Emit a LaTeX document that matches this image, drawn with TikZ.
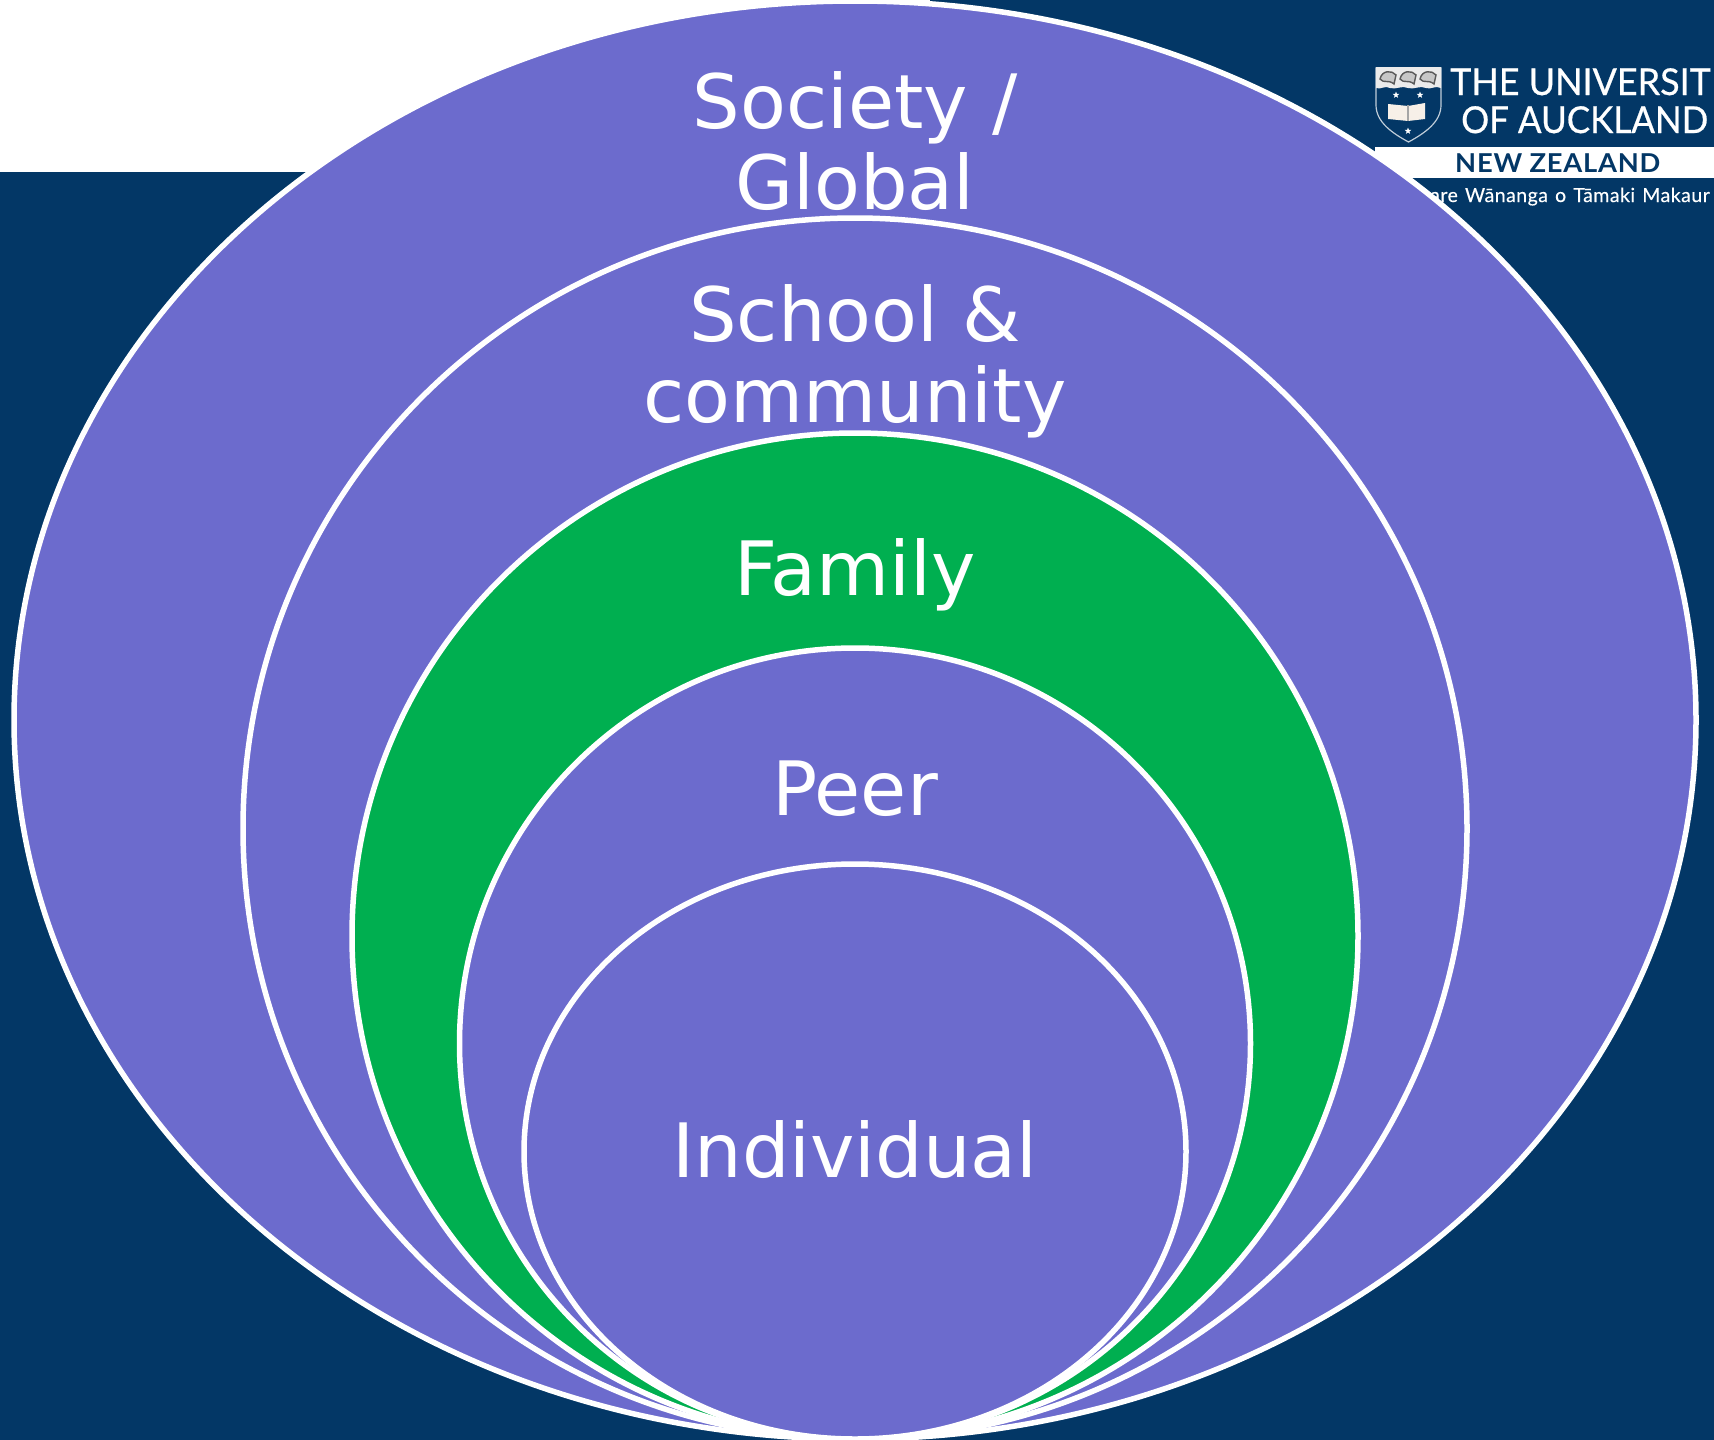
\documentclass[tikz,border=0pt]{standalone}
\usepackage{fontspec}
\setmainfont{DejaVu Sans}
\newfontfamily\logofont{Lato}
\newfontfamily\logoheavy[FakeBold=0.6,FakeStretch=0.97]{Lato}
\newfontfamily\logotight[FakeBold=0.6,FakeStretch=0.945]{Lato}
\newfontfamily\logospaced[LetterSpace=2.5,WordSpace=1.3,FakeBold=0.3]{Lato}
\newfontfamily\logoband[LetterSpace=3,FakeStretch=1.05]{Lato}
\usetikzlibrary{shapes.geometric}
\definecolor{navy}{HTML}{033766}
\definecolor{ringblue}{HTML}{6C6BCD}
\definecolor{ringgreen}{HTML}{00AF50}
\tikzset{
  x=1pt,y=-1pt,
  ring/.style={ellipse,draw=white,line width=5.5pt,inner sep=0pt,outer sep=0pt},
  ringlabel/.style={text=white,font=\fontsize{75}{81}\selectfont,align=center,inner sep=0pt},
  logotext/.style={inner sep=0pt,anchor=base west,text=white,font=\logofont},
  crest star/.style={star,star points=5,star point ratio=2.4,fill=white,inner sep=0pt,minimum size=7pt},
}
\begin{document}
\begin{tikzpicture}
\useasboundingbox (0,0) rectangle (1714,1440);
\fill[navy] (0,0) rectangle (1714,1440);
\fill[white] (0,0) rectangle (930,172);
% logo
\begin{scope}
\clip (0,0) rectangle (1714,1440);
\fill[white] (1375,147) rectangle (1714,178);
\node[logotext,font=\logoheavy\fontsize{37}{37}\selectfont] (t1) at (1450,95) {THE UNIVERSIT};
\node[logotext,font=\logotight\fontsize{37}{37}\selectfont] (t2) at (1461,133) {OF AUCKLAND};
\node[logotext,text=navy,font=\logoband\bfseries\fontsize{26}{26}\selectfont] (t3) at (1455,172) {NEW ZEALAND};
\node[logotext,font=\logospaced\fontsize{19.5}{20}\selectfont] (t4) at (1430,202) {are W\=ananga o T\=amaki Makaur};
% shield
\draw[white!75!navy,line width=1.2pt,fill=navy] (1376,68) -- (1441,68) -- (1441,105) .. controls (1441,122) and (1425,133) .. (1408.5,142) .. controls (1392,133) and (1376,122) .. (1376,105) -- cycle;
\fill[white!92!black] (1376,67) -- (1441,67) -- (1441,88) .. controls (1435,85) and (1431,90) .. (1426,88) .. controls (1420,85) and (1414,90) .. (1408,88) .. controls (1402,85) and (1396,90) .. (1390,88) .. controls (1385,85) and (1381,90) .. (1376,88) -- cycle;
\foreach \kx in {1388,1408,1428}{
  \draw[black!65,line width=1.4pt,fill=black!22] (\kx-8,79) .. controls (\kx-6,70) and (\kx+4,70) .. (\kx+8,75) -- (\kx+6,84) .. controls (\kx,79) and (\kx-4,84) .. (\kx-8,79) -- cycle;
}
\node[crest star] (s1) at (1396,95) {};
\node[crest star] (s2) at (1420,95) {};
\node[crest star] (s3) at (1408,131) {};
\fill[white!88!brown] (1388,104) -- (1408,106) -- (1425,103) -- (1425,119) -- (1408,121) -- (1388,119) -- cycle;
\fill[black!35] (1406.5,105) rectangle (1408.5,121);
\end{scope}
% rings
\node[ring,fill=ringblue,minimum width=1682pt,minimum height=1438pt] (society) at (855,720) {};
\node[ring,fill=ringblue,minimum width=1224pt,minimum height=1221pt] (school) at (855,828.5) {};
\node[ring,fill=ringgreen,minimum width=1006pt,minimum height=1006pt] (family) at (855,936) {};
\node[ring,fill=ringblue,minimum width=791pt,minimum height=791pt] (peer) at (855,1043.5) {};
\node[ring,fill=ringblue,minimum width=662pt,minimum height=575pt] (individual) at (855,1151.5) {};
% labels
\node[ringlabel] (lsociety) at (855,141) {Society /\\Global};
\node[ringlabel] (lschool) at (855,361.5) {School \&\\community};
\node[ringlabel] (lfamily) at (855,575) {Family};
\node[ringlabel] (lpeer) at (855,789) {Peer};
\node[ringlabel] (lindividual) at (855,1150) {Individual};
\end{tikzpicture}
\end{document}
